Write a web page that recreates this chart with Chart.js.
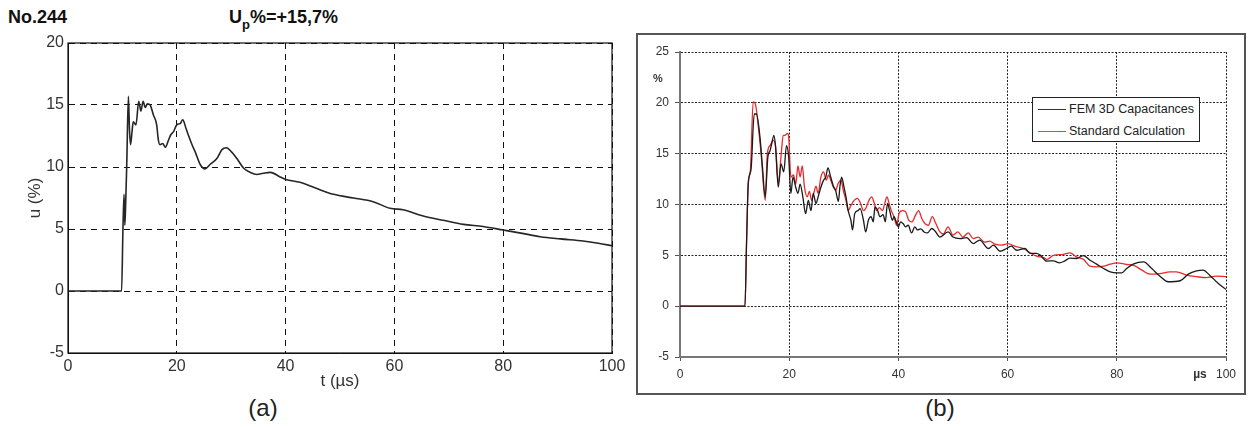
<!DOCTYPE html>
<html>
<head>
<meta charset="utf-8">
<script src="https://cdn.jsdelivr.net/npm/chart.js@4.4.1/dist/chart.umd.min.js"></script>
<style>
  body { margin: 0; background: #fff; width: 1250px; height: 427px; position: relative; overflow: hidden;
         font-family: "Liberation Sans", Arial, Helvetica, sans-serif; color: #222; }
  .abs { position: absolute; white-space: nowrap; line-height: 1; }
  .center { transform: translate(-50%, -50%); }
  #chart-a { position: absolute; left: 0; top: 0; }
  #chart-b { position: absolute; left: 630px; top: 0; }
  #frame-b { position: absolute; left: 636px; top: 33px; width: 610px; height: 362px; box-sizing: border-box;
             border: 2px solid #555; }
  #legend-b { position: absolute; left: 1032px; top: 97px; width: 168px; height: 45px; box-sizing: border-box;
              border: 1px solid #222; background: #fff; font-size: 12.5px; color: #222; }
  .lg-row { position: relative; height: 22px; line-height: 22px; padding-left: 36px; }
  .lg-line { position: absolute; left: 5px; top: 11px; width: 28px; height: 1px; }
</style>
</head>
<body>

<div class="abs" style="left:8px; top:8px; font-size:18px; font-weight:bold; color:#111;">No.244</div>
<div class="abs" style="left:229px; top:8px; font-size:18px; font-weight:bold; color:#111;">U<span style="font-size:13px; position:relative; top:6px;">p</span>%=+15,7%</div>
<div class="abs center" style="left:263px; top:408px; font-size:24px;">(a)</div>
<div class="abs center" style="left:940px; top:408px; font-size:24px;">(b)</div>

<canvas id="chart-a" width="630" height="427"></canvas>
<div id="frame-b"></div>
<canvas id="chart-b" width="620" height="427"></canvas>

<div class="abs center" style="left:658px; top:78px; font-size:11px; font-weight:bold; color:#333;">%</div>
<div class="abs center" style="left:1200px; top:374px; font-size:12px; font-weight:bold; color:#333;">µs</div>

<div id="legend-b">
  <div class="lg-row"><span class="lg-line" style="background:#333"></span>FEM 3D Capacitances</div>
  <div class="lg-row"><span class="lg-line" style="background:#f04040"></span>Standard Calculation</div>
</div>

<script>
// (a) measured impulse, No.244
const timeA = [0, 9.85, 10.1, 10.3, 10.45, 10.6, 10.8, 11.1, 11.3, 11.5, 11.8, 12.0, 12.5, 13.0, 13.4, 13.8,
  14.2, 14.6, 15.1, 15.7, 16.3, 16.6, 16.9, 17.4, 17.9, 18.5, 18.9, 19.4, 20.0, 20.6, 21.1, 21.7, 22.1, 22.8,
  23.4, 24.3, 25.2, 26.1, 27.4, 28.3, 29.1, 30.1, 31.0, 32.3, 33.5, 34.7, 35.9, 37.2, 39.0, 40.0, 42.6, 45.5,
  48.8, 52.5, 56.1, 59.2, 61.6, 65.3, 69.0, 72.7, 76.3, 80.0, 83.5, 86.8, 90.5, 94.7, 97.5, 100];
const voltA = [0, 0, 5.0, 7.8, 5.3, 7.0, 10.2, 15.7, 13.0, 11.8, 13.0, 13.65, 13.4, 15.3, 14.5, 15.3,
  14.8, 15.1, 15.0, 14.2, 13.4, 12.2, 11.8, 11.9, 11.6, 12.2, 12.6, 12.85, 13.4, 13.5, 13.8, 13.1, 12.6, 11.8,
  11.2, 10.2, 9.85, 10.2, 10.7, 11.4, 11.55, 11.2, 10.7, 9.9, 9.57, 9.4, 9.5, 9.57, 9.2, 9.0, 8.77, 8.3,
  7.8, 7.5, 7.2, 6.67, 6.55, 6.05, 5.7, 5.37, 5.2, 4.92, 4.65, 4.38, 4.2, 4.03, 3.85, 3.65];
const xTicksA = [0, 20, 40, 60, 80, 100];
const yTicksA = [-5, 0, 5, 10, 15, 20];

// (b) FEM 3D capacitances vs standard calculation
const femTime = [0, 11.9, 12.2, 12.5, 13.0, 13.6, 14.0, 14.65, 15.1, 15.6, 16.1, 16.5, 16.8, 17.2, 17.5, 18.0,
  18.5, 19.0, 19.5, 19.9, 20.3, 20.7, 21.2, 21.6, 22.0, 22.5, 23.0, 23.5, 24.0, 24.4, 24.9, 25.3, 25.8, 26.3,
  26.7, 27.1, 27.6, 28.1, 28.5, 29.0, 29.3, 29.6, 30.0, 30.4, 30.8, 31.3, 31.6, 32.0, 32.6, 33.0, 33.6, 34.0,
  34.5, 35.0, 35.4, 35.7, 36.2, 36.6, 37.2, 37.6, 38.0, 38.4, 38.9, 39.2, 39.6, 40.0, 40.4, 40.9, 41.3, 41.8,
  42.4, 43.0, 43.5, 44.1, 44.7, 45.3, 46.1, 46.7, 47.6, 49.1, 50.0, 51.3, 52.5, 53.7, 54.9, 56.5, 57.4, 58.6,
  59.8, 60.7, 61.6, 63.2, 64.1, 65.3, 65.9, 67.2, 68.4, 69.5, 70.5, 71.4, 72.6, 73.9, 75.1, 76.3, 77.6, 78.8,
  80.0, 80.9, 81.8, 83.0, 84.9, 86.4, 87.9, 89.4, 91.6, 93.1, 94.6, 95.8, 97.0, 98.6, 100];
const femVal = [0, 0, 6.5, 12.1, 13.4, 18.9, 18.9, 16.6, 13.7, 10.75, 14.7, 15.3, 16.0, 16.8, 15.7, 11.7,
  14.0, 13.2, 15.8, 14.7, 11.1, 12.7, 11.7, 11.1, 12.0, 10.75, 9.1, 10.4, 9.4, 11.1, 10.1, 10.75, 11.7, 12.4,
  12.7, 13.6, 12.7, 11.8, 11.4, 10.3, 11.8, 12.7, 11.8, 10.75, 9.4, 8.45, 7.5, 9.1, 9.4, 9.6, 8.45, 7.3,
  8.45, 8.8, 8.3, 9.76, 9.4, 8.8, 9.0, 8.3, 10.1, 9.4, 8.45, 8.8, 8.3, 7.8, 8.3, 8.1, 7.8, 7.96,
  7.2, 7.8, 7.5, 7.6, 7.3, 7.2, 7.64, 7.4, 6.8, 7.3, 6.8, 6.65, 6.75, 6.16, 6.5, 5.67, 6.0, 5.4,
  5.67, 5.9, 5.5, 5.67, 5.2, 5.2, 5.05, 4.43, 4.46, 4.26, 4.46, 4.72, 4.69, 4.98, 4.52, 4.13, 3.7, 3.38,
  3.28, 3.28, 3.7, 4.13, 4.36, 3.7, 2.95, 2.4, 2.5, 3.15, 3.46, 3.54, 3.05, 2.23, 1.65];
const stdTime = [0, 11.9, 12.2, 12.5, 12.9, 13.4, 13.8, 14.3, 14.9, 15.6, 16.0, 16.5, 17.1, 17.5, 18.0, 18.5,
  18.9, 19.2, 19.7, 19.9, 20.3, 20.8, 21.2, 21.6, 22.0, 22.4, 22.8, 23.3, 23.7, 24.1, 24.5, 24.9, 25.3, 25.8,
  26.3, 26.8, 27.2, 27.6, 28.1, 28.5, 29.0, 29.5, 29.9, 30.4, 30.8, 31.3, 31.9, 32.5, 33.0, 33.6, 34.0, 34.6,
  35.1, 35.6, 36.0, 36.5, 37.1, 37.5, 37.9, 38.3, 38.7, 39.2, 39.7, 40.1, 40.7, 41.3, 41.9, 42.5, 43.1, 43.7,
  44.3, 44.9, 45.5, 46.2, 46.8, 47.6, 48.2, 49.1, 50.0, 50.9, 51.8, 52.8, 53.7, 54.6, 55.8, 56.7, 57.7, 58.9,
  60.1, 61.3, 62.9, 64.1, 65.3, 66.6, 67.2, 68.4, 70.2, 71.4, 72.6, 73.9, 75.1, 76.3, 77.6, 78.8, 80.0, 81.8,
  83.0, 84.6, 86.1, 87.9, 89.7, 90.9, 92.8, 94.6, 96.4, 98.2, 100];
const stdVal = [0, 0, 6.5, 12.0, 13.4, 20.1, 19.9, 17.9, 14.7, 10.4, 15.0, 15.8, 16.3, 15.7, 12.1, 14.7,
  16.8, 16.8, 17.0, 16.7, 12.7, 12.9, 12.0, 13.8, 12.7, 13.8, 11.7, 10.75, 11.3, 10.4, 11.1, 11.8, 11.1, 12.7,
  13.2, 12.4, 12.9, 12.4, 11.7, 11.4, 12.1, 12.4, 11.4, 10.4, 9.4, 9.9, 10.4, 10.6, 10.2, 9.4, 9.6, 10.4,
  10.75, 10.1, 9.4, 9.7, 9.4, 10.1, 10.75, 10.1, 9.4, 8.8, 7.96, 9.1, 9.4, 9.3, 8.45, 8.3, 8.9, 9.4,
  8.6, 8.1, 7.96, 8.8, 8.2, 7.3, 7.1, 7.8, 6.98, 7.3, 6.8, 7.2, 6.65, 6.8, 6.3, 6.4, 6.1, 6.0,
  6.16, 5.9, 5.67, 5.25, 4.92, 4.78, 4.6, 5.0, 5.1, 5.25, 4.85, 4.6, 3.93, 3.87, 3.93, 4.13, 4.26, 4.1,
  4.03, 3.54, 3.15, 3.2, 3.38, 3.38, 3.05, 2.9, 2.8, 2.95, 2.9];
const xTicksB = [0, 20, 40, 60, 80, 100];
const yTicksB = [-5, 0, 5, 10, 15, 20, 25];

const fontFamily = '"Liberation Sans", Arial, Helvetica, sans-serif';

function toPoints(xs, ys) {
  return xs.map((x, i) => ({ x: x, y: ys[i] }));
}

function fixedTicks(values) {
  return function (scale) {
    scale.ticks = values.map(v => ({ value: v }));
  };
}

// solid box around the plot area, matlab style
const frameBox = {
  id: 'frameBox',
  afterDraw(chart, args, opts) {
    const { ctx, chartArea } = chart;
    ctx.save();
    ctx.strokeStyle = opts.color || '#000';
    ctx.lineWidth = opts.width || 1;
    ctx.strokeRect(chartArea.left, chartArea.top, chartArea.right - chartArea.left, chartArea.bottom - chartArea.top);
    ctx.restore();
  }
};

Chart.defaults.font.family = fontFamily;

new Chart(document.getElementById('chart-a'), {
  type: 'line',
  data: {
    datasets: [{
      data: toPoints(timeA, voltA),
      borderColor: '#262626',
      borderWidth: 1.6,
      pointRadius: 0,
      cubicInterpolationMode: 'monotone'
    }]
  },
  plugins: [frameBox],
  options: {
    responsive: false,
    animation: false,
    layout: { padding: { left: 0, top: 43, right: 18, bottom: 0 } },
    plugins: {
      legend: { display: false },
      tooltip: { enabled: false },
      frameBox: { color: '#111', width: 1.2 }
    },
    scales: {
      x: {
        type: 'linear', min: 0, max: 100,
        afterBuildTicks: fixedTicks(xTicksA),
        afterFit: s => { s.height = 74; },
        grid: { color: '#111', lineWidth: 1, drawTicks: false },
        border: { color: '#111', width: 1, dash: [6, 5] },
        ticks: { padding: 4, color: '#333', font: { size: 16 }, autoSkip: false, maxRotation: 0 },
        title: { display: true, text: 't (µs)', color: '#333', font: { size: 17 }, padding: { top: 0, bottom: 35 } }
      },
      y: {
        type: 'linear', min: -5, max: 20,
        afterBuildTicks: fixedTicks(yTicksA),
        afterFit: s => { s.width = 68; },
        grid: { color: '#111', lineWidth: 1, drawTicks: false },
        border: { color: '#111', width: 1, dash: [6, 5] },
        ticks: { padding: 4, color: '#333', font: { size: 16 }, autoSkip: false },
        title: { display: true, text: 'u (%)', color: '#333', font: { size: 17 }, padding: { top: 25, bottom: 0 } }
      }
    }
  }
});

new Chart(document.getElementById('chart-b'), {
  type: 'line',
  data: {
    datasets: [{
      label: 'FEM 3D Capacitances',
      data: toPoints(femTime, femVal),
      borderColor: '#1a1a1a',
      borderWidth: 1.3,
      pointRadius: 0,
      cubicInterpolationMode: 'monotone'
    }, {
      label: 'Standard Calculation',
      data: toPoints(stdTime, stdVal),
      borderColor: '#e8282a',
      borderWidth: 1.3,
      pointRadius: 0,
      cubicInterpolationMode: 'monotone'
    }]
  },
  options: {
    responsive: false,
    animation: false,
    layout: { padding: { left: 0, top: 52, right: 24, bottom: 0 } },
    plugins: {
      legend: { display: false },
      tooltip: { enabled: false }
    },
    scales: {
      x: {
        type: 'linear', min: 0, max: 100,
        afterBuildTicks: fixedTicks(xTicksB),
        afterFit: s => { s.height = 70; },
        grid: { color: '#222', lineWidth: 1, tickLength: 4, tickColor: '#555' },
        border: { color: '#777', width: 2, dash: [2, 1.5] },
        ticks: { padding: 6, color: '#333', font: { size: 12 }, autoSkip: false, maxRotation: 0 }
      },
      y: {
        type: 'linear', min: -5, max: 25,
        afterBuildTicks: fixedTicks(yTicksB),
        afterFit: s => { s.width = 50; },
        grid: { color: '#222', lineWidth: 1, tickLength: 5, tickColor: '#555' },
        border: { color: '#777', width: 2, dash: [2, 1.5] },
        ticks: { padding: 6, color: '#333', font: { size: 12 }, autoSkip: false }
      }
    }
  }
});
</script>
</body>
</html>
